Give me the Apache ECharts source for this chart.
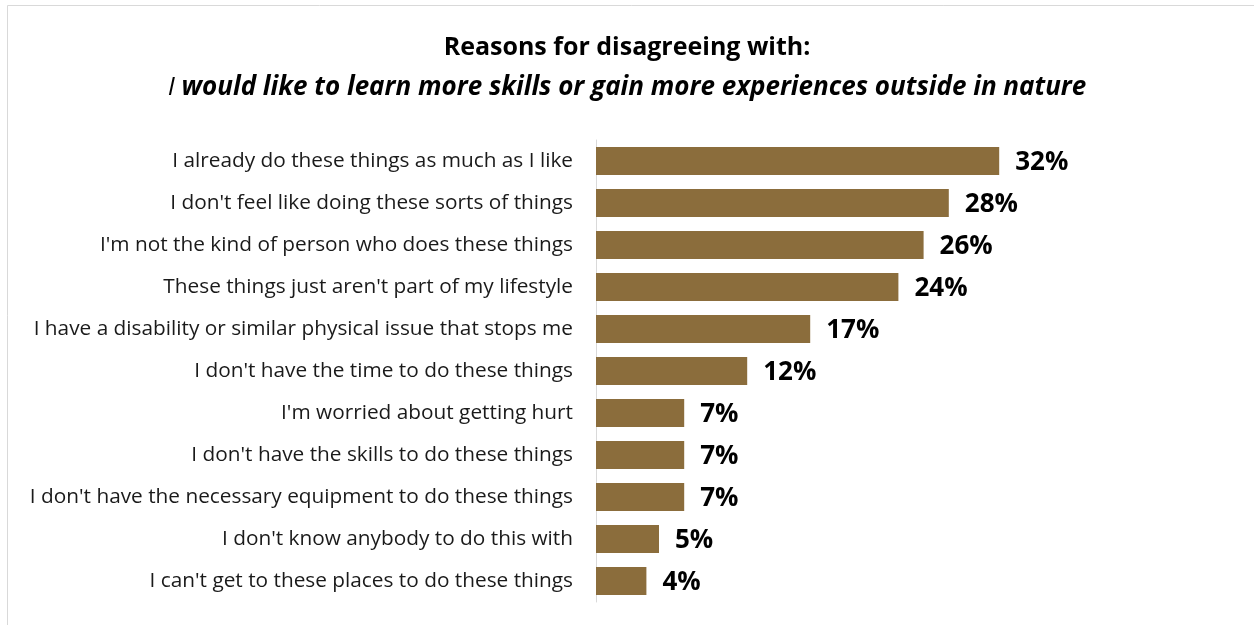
<!DOCTYPE html>
<html>
<head>
<meta charset="utf-8">
<script src="https://cdn.jsdelivr.net/npm/echarts@6/dist/echarts.min.js"></script>
<style>
  html, body { margin: 0; padding: 0; background: #fff; }
  #chart { width: 1254px; height: 625px; }
</style>
</head>
<body>
<div id="chart"></div>
<script>
// Reasons, listed top to bottom as they appear on the chart
const categories = [
  "I already do these things as much as I like",
  "I don't feel like doing these sorts of things",
  "I'm not the kind of person who does these things",
  "These things just aren't part of my lifestyle",
  "I have a disability or similar physical issue that stops me",
  "I don't have the time to do these things",
  "I'm worried about getting hurt",
  "I don't have the skills to do these things",
  "I don't have the necessary equipment to do these things",
  "I don't know anybody to do this with",
  "I can't get to these places to do these things"
];
// Share of respondents (%)
const values = [32, 28, 26, 24, 17, 12, 7, 7, 7, 5, 4];

const titleLine1 = "Reasons for disagreeing with:";
const titleLead = "I";
const titleRest = " would like to learn more skills or gain more experiences outside in nature";

const FONT = "'Open Sans', 'Noto Sans', sans-serif";
const chart = echarts.init(document.getElementById('chart'), null, { renderer: 'canvas' });

chart.setOption({
  animation: false,
  backgroundColor: '#ffffff',
  graphic: [{
    type: 'rect',
    shape: { x: 7.5, y: 5.5, width: 1300, height: 700 },
    style: { fill: 'none', stroke: '#d9d9d9', lineWidth: 1 },
    silent: true
  }],
  title: [{
    text: titleLine1,
    left: 'center',
    top: 32,
    padding: 0,
    textStyle: {
      fontFamily: FONT, fontSize: 25, fontWeight: 'bold', color: '#000', lineHeight: 32
    }
  }, {
    text: '{it|' + titleLead + '}{bi|' + titleRest + '}',
    left: 'center',
    top: 72,
    padding: 0,
    textStyle: {
      fontFamily: FONT, fontSize: 26, color: '#000', lineHeight: 32,
      rich: {
        it: { fontFamily: FONT, fontSize: 26, fontStyle: 'italic', fontWeight: 'normal', color: '#000', lineHeight: 32 },
        bi: { fontFamily: FONT, fontSize: 26, fontStyle: 'italic', fontWeight: 'bold', color: '#000', lineHeight: 32 }
      }
    }
  }],
  grid: { left: 596, right: 154, top: 140, bottom: 23, containLabel: false },
  xAxis: {
    type: 'value',
    min: 0,
    max: 40,
    show: false
  },
  yAxis: {
    type: 'category',
    data: categories,
    inverse: true,
    axisLine: { show: true, lineStyle: { color: '#d9d9d9', width: 1 } },
    axisTick: { show: false },
    axisLabel: {
      fontFamily: FONT,
      fontSize: 20.8,
      color: '#1a1a1a',
      margin: 23,
      padding: [4, 0, 0, 0]
    }
  },
  series: [{
    type: 'bar',
    data: values,
    barCategoryGap: '33%',
    itemStyle: { color: '#8b6d3c' },
    label: {
      show: true,
      position: 'right',
      distance: 16,
      offset: [0, 2],
      formatter: '{c}%',
      fontFamily: FONT,
      fontSize: 26,
      fontWeight: 'bold',
      color: '#000'
    }
  }]
});
</script>
</body>
</html>
